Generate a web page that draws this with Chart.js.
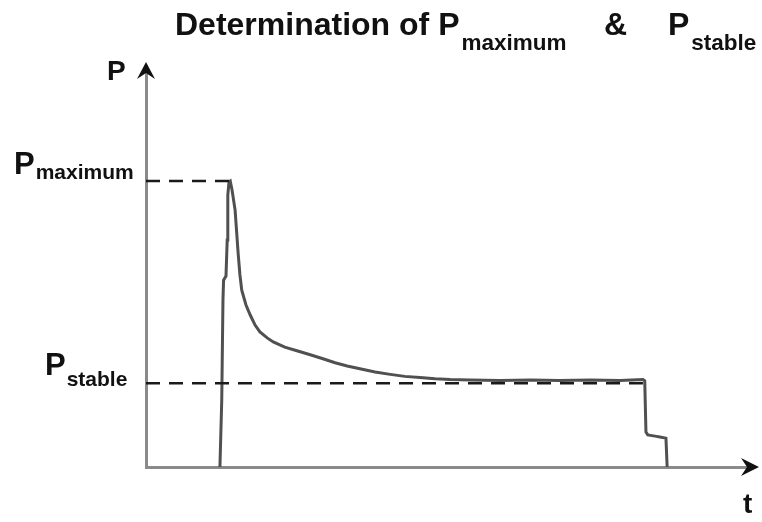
<!DOCTYPE html>
<html>
<head>
<meta charset="utf-8">
<script src="https://cdn.jsdelivr.net/npm/chart.js@4/dist/chart.umd.min.js"></script>
<style>
  html, body { margin: 0; padding: 0; background: #ffffff; }
  #wrap { width: 762px; height: 522px; position: relative; }
</style>
</head>
<body>
<div id="wrap"><canvas id="chart" width="762" height="522"></canvas></div>
<script>
// Pressure trace over time (arbitrary units on both axes)
const timeValues = [
  12.2, 12.5, 12.7, 12.8, 13.2, 13.4, 13.5, 13.7, 13.9, 14.2, 14.7, 15.2, 15.5, 15.8,
  16.5, 17.2, 18.0, 18.8, 20.0, 21.0, 22.9, 24.9, 27.1, 29.2, 31.2, 33.2, 35.3, 37.8,
  40.3, 42.7, 45.2, 47.7, 50.2, 53.5, 58.4, 63.4, 68.3, 73.3, 78.2, 82.0, 82.3, 82.5,
  82.8, 84.0, 84.8, 85.8, 86.0
];
const pressureValues = [
  0.0, 16.7, 41.6, 46.6, 47.6, 56.6, 67.8, 71.1, 71.3, 69.1, 64.1, 53.4, 47.9, 44.1,
  40.4, 37.9, 35.4, 33.7, 32.2, 31.2, 29.9, 29.0, 28.0, 27.0, 26.0, 25.2, 24.5, 23.7,
  23.1, 22.6, 22.3, 22.0, 21.8, 21.7, 21.6, 21.7, 21.6, 21.7, 21.6, 21.8, 21.5, 8.7,
  8.0, 7.7, 7.5, 7.2, 0.0
];

// Reference levels and where their guide lines stop
const pMaximum = 71.3;
const pStable = 20.9;
const tMaximumEnd = 14.4;
const tStableEnd = 82.0;

// Axis ranges
const timeRange = [0, 100];
const pressureRange = [0, 100];

const trace = timeValues.map((t, i) => ({ x: t, y: pressureValues[i] }));

const FONT = '"Liberation Sans", Arial, Helvetica, sans-serif';

// Draws "P" followed by a subscript word
function drawSubscripted(ctx, x, baseY, main, sub, mainSize, subSize, subDrop, gap) {
  ctx.font = 'bold ' + mainSize + 'px ' + FONT;
  ctx.fillText(main, x, baseY);
  const w = ctx.measureText(main).width;
  ctx.font = 'bold ' + subSize + 'px ' + FONT;
  ctx.fillText(sub, x + w + gap, baseY + subDrop);
}

const decorations = {
  id: 'decorations',
  afterDraw(chart) {
    const { ctx, chartArea, scales } = chart;
    ctx.save();
    ctx.fillStyle = '#111111';
    ctx.textBaseline = 'alphabetic';
    ctx.textAlign = 'left';

    // Title with subscripts
    drawSubscripted(ctx, 175, 35, 'Determination of P', 'maximum', 32, 22.5, 15, 2);
    ctx.font = 'bold 32px ' + FONT;
    ctx.fillText('&', 604, 35);
    drawSubscripted(ctx, 668, 35, 'P', 'stable', 32, 22.5, 15, 2);

    // Level labels on the pressure axis
    const yMax = scales.y.getPixelForValue(pMaximum);
    const yStable = scales.y.getPixelForValue(pStable);
    drawSubscripted(ctx, 14, yMax - 7, 'P', 'maximum', 31, 21, 5, 1);
    drawSubscripted(ctx, 45, yStable - 8, 'P', 'stable', 31, 21, 11, 1);

    // Axis names
    ctx.font = 'bold 28px ' + FONT;
    ctx.fillText('P', 107, 80);
    ctx.fillText('t', 743, 513);

    // Arrowheads at the axis ends
    const left = chartArea.left, top = chartArea.top;
    const right = chartArea.right, bottom = chartArea.bottom;
    ctx.fillStyle = '#111111';
    ctx.beginPath();
    ctx.moveTo(left, top - 4);
    ctx.lineTo(left + 9, top + 13);
    ctx.lineTo(left, top + 7);
    ctx.lineTo(left - 9, top + 13);
    ctx.closePath();
    ctx.fill();

    ctx.beginPath();
    ctx.moveTo(right + 7, bottom);
    ctx.lineTo(right - 11, bottom - 9);
    ctx.lineTo(right - 5, bottom);
    ctx.lineTo(right - 11, bottom + 9);
    ctx.closePath();
    ctx.fill();
    ctx.restore();
  }
};

new Chart(document.getElementById('chart'), {
  type: 'line',
  data: {
    datasets: [
      {
        label: 'P max',
        data: [{ x: timeRange[0], y: pMaximum }, { x: tMaximumEnd, y: pMaximum }],
        borderColor: '#1a1a1a',
        borderWidth: 2.5,
        borderDash: [14, 9],
        pointRadius: 0,
        clip: false,
        order: 0
      },
      {
        label: 'P stable',
        data: [{ x: timeRange[0], y: pStable }, { x: tStableEnd, y: pStable }],
        borderColor: '#1a1a1a',
        borderWidth: 2.5,
        borderDash: [14, 9],
        pointRadius: 0,
        clip: false,
        order: 0
      },
      {
        label: 'P(t)',
        data: trace,
        borderColor: '#505050',
        borderWidth: 3,
        pointRadius: 0,
        tension: 0,
        clip: false,
        order: 1
      }
    ]
  },
  options: {
    responsive: false,
    animation: false,
    devicePixelRatio: 1,
    layout: { padding: { left: 146, right: 10, top: 66, bottom: 55 } },
    plugins: {
      legend: { display: false },
      title: { display: false },
      tooltip: { enabled: false }
    },
    scales: {
      x: {
        type: 'linear',
        min: timeRange[0],
        max: timeRange[1],
        grid: { display: false, drawTicks: false },
        ticks: { display: false },
        border: { display: true, color: '#8a8a8a', width: 3 }
      },
      y: {
        type: 'linear',
        min: pressureRange[0],
        max: pressureRange[1],
        grid: { display: false, drawTicks: false },
        ticks: { display: false },
        border: { display: true, color: '#8a8a8a', width: 3 }
      }
    }
  },
  plugins: [decorations]
});
</script>
</body>
</html>
